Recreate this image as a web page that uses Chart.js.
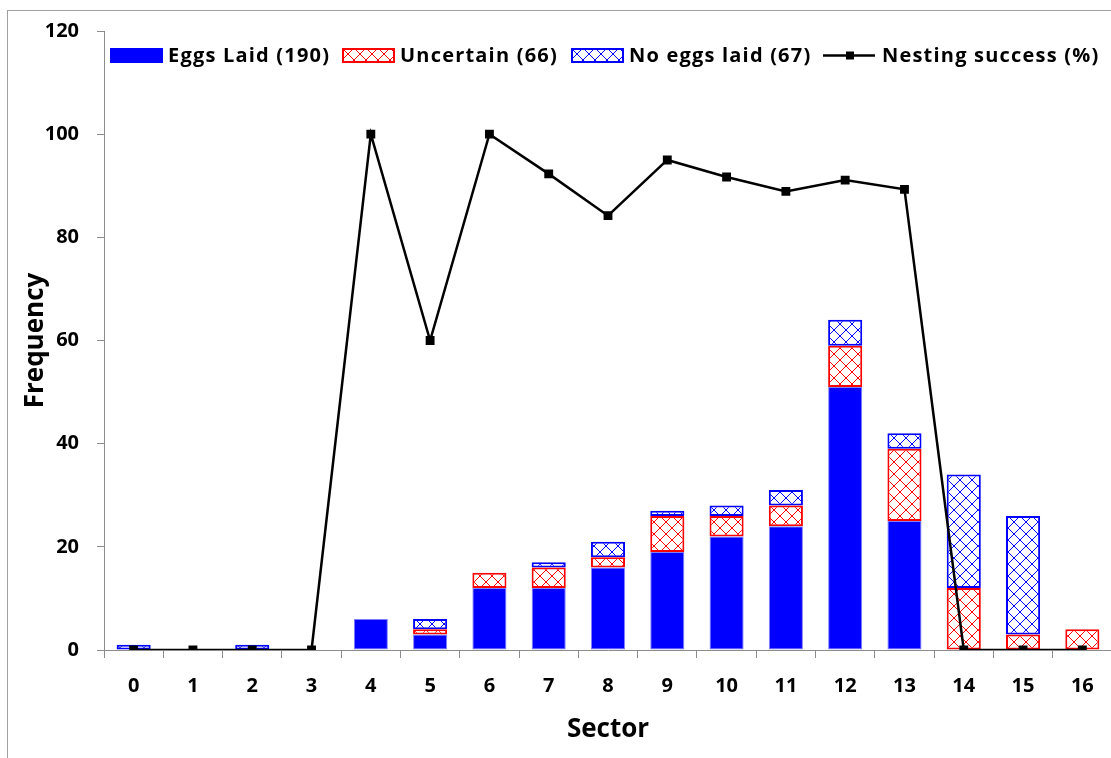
<!DOCTYPE html>
<html><head><meta charset="utf-8">
<script src="https://cdn.jsdelivr.net/npm/chart.js@4.4.0/dist/chart.umd.min.js"></script>
<style>
html,body{margin:0;padding:0;background:#fff;overflow:hidden;}
#wrap{position:relative;width:1111px;height:758px;overflow:hidden;}
#frame{position:absolute;left:7px;top:10px;width:1200px;height:800px;border:1px solid #a0a0a0;box-sizing:border-box;}
canvas{position:absolute;left:0;top:0;}
.lg-mark{position:absolute;top:48px;width:53px;height:15px;}
.lg-text{position:absolute;top:45px;height:20px;line-height:20px;font-family:"Open Sans",sans-serif;font-weight:700;font-size:20px;color:#000;white-space:nowrap;letter-spacing:1.2px;}
</style></head><body>
<div id="wrap"><div id="frame"></div><canvas id="c" width="1119" height="758"></canvas><div id="legend"></div></div>
<script>
const sectors = ['0','1','2','3','4','5','6','7','8','9','10','11','12','13','14','15','16'];
const eggsLaid = [null,null,null,null,6,3,12,12,16,19,22,24,51,25,null,null,null];
const uncertain = [null,null,null,null,null,1,3,4,2,7,4,4,8,14,12,3,4];
const noEggs = [1,null,1,null,null,2,null,1,3,1,2,3,5,3,22,23,null];
const nestingSuccess = [0,0,0,0,100,60,100,92.3,84.2,95,91.7,88.9,91.1,89.3,0,0,0];
const yTicks = [0,20,40,60,80,100,120];
const legendLabels = ['Eggs Laid (190)','Uncertain (66)','No eggs laid (67)','Nesting success (%)'];

const FONT = '"Open Sans", "Liberation Sans", sans-serif';
const canvas = document.getElementById('c');
const ctx = canvas.getContext('2d');

function hatchTile(color){
  const t = document.createElement('canvas'); t.width = 12; t.height = 12;
  const g = t.getContext('2d');
  g.fillStyle = '#fff'; g.fillRect(0,0,12,12);
  g.fillStyle = color;
  for (let i = 0; i < 12; i++) { g.fillRect(i,i,1,1); g.fillRect(11-i,i,1,1); }
  return t;
}
const redHatch = ctx.createPattern(hatchTile('#ff0000'), 'repeat');
const blueHatch = ctx.createPattern(hatchTile('#0000ff'), 'repeat');

function legendImg(kind){
  const c = document.createElement('canvas'); c.width = 53; c.height = 15;
  const g = c.getContext('2d');
  if (kind === 'solid') {
    g.fillStyle = '#0000ff'; g.fillRect(0,0,53,15);
  } else if (kind === 'red' || kind === 'blue') {
    const col = kind === 'red' ? '#ff0000' : '#0000ff';
    g.fillStyle = g.createPattern(hatchTile(col), 'repeat'); g.fillRect(0,0,53,15);
    g.strokeStyle = col; g.lineWidth = 2; g.strokeRect(1,1,51,13);
  } else {
    g.strokeStyle = '#000'; g.lineWidth = 2.5;
    g.beginPath(); g.moveTo(0,7.5); g.lineTo(52,7.5); g.stroke();
    g.fillStyle = '#000'; g.fillRect(23,3.5,8,8);
  }
  return c;
}

// HTML legend (real text)
const legendKinds = ['solid','red','blue','line'];
const markX = [110, 342, 571, 823];
const textX = [168, 400, 629, 882];
const legendEl = document.getElementById('legend');
legendLabels.forEach((lab, i) => {
  const m = legendImg(legendKinds[i]);
  m.className = 'lg-mark'; m.style.left = markX[i] + 'px';
  legendEl.appendChild(m);
  const t = document.createElement('div');
  t.className = 'lg-text'; t.style.left = textX[i] + 'px'; t.textContent = lab;
  legendEl.appendChild(t);
});

new Chart(ctx, {
  type: 'bar',
  data: {
    labels: sectors,
    datasets: [
      { type: 'line', label: legendLabels[3], data: nestingSuccess, borderColor: '#000', backgroundColor: '#000',
        borderWidth: 2.5, pointStyle: 'rect', pointRadius: 4.5, pointBackgroundColor: '#000', pointBorderColor: '#000',
        tension: 0, order: -1 },
      { label: legendLabels[0], data: eggsLaid, backgroundColor: '#0000ff', borderColor: '#8080ff', borderWidth: 1,
        borderSkipped: false, stack: 's', order: 1 },
      { label: legendLabels[1], data: uncertain, backgroundColor: redHatch, borderColor: '#ff0000', borderWidth: 2,
        borderSkipped: false, stack: 's', order: 2 },
      { label: legendLabels[2], data: noEggs, backgroundColor: blueHatch, borderColor: '#0000ff', borderWidth: 2,
        borderSkipped: false, stack: 's', order: 3 }
    ]
  },
  options: {
    responsive: false,
    animation: false,
    devicePixelRatio: 1,
    layout: { padding: { left: 12, top: 31, right: 0, bottom: 0 } },
    datasets: { bar: { categoryPercentage: 1, barPercentage: 0.575 } },
    plugins: {
      tooltip: { enabled: false },
      legend: { display: false }
    },
    scales: {
      x: {
        stacked: true,
        offset: true,
        grid: { offset: true, drawOnChartArea: false, tickLength: 8, color: '#8c8c8c' },
        border: { color: '#8c8c8c', width: 1 },
        ticks: { color: '#000', font: { family: FONT, size: 20, weight: 'bold' }, padding: 16, maxRotation: 0 },
        title: { display: true, text: 'Sector', color: '#000', font: { family: FONT, size: 26, weight: 'bold' }, padding: { top: 4, bottom: 13 } },
        afterFit: s => { s.height = 108; }
      },
      y: {
        stacked: true,
        min: 0, max: 120,
        afterBuildTicks: s => { s.ticks = yTicks.map(v => ({ value: v })); },
        grid: { drawOnChartArea: false, tickLength: 7, color: '#8c8c8c' },
        border: { color: '#8c8c8c', width: 1 },
        ticks: { color: '#000', font: { family: FONT, size: 20, weight: 'bold' }, padding: 18 },
        title: { display: true, text: 'Frequency', color: '#000', font: { family: FONT, size: 26, weight: 'bold' }, padding: { top: 8, bottom: 4 } },
        afterFit: s => { s.width = 92; }
      }
    }
  }
});
</script>
</body></html>
